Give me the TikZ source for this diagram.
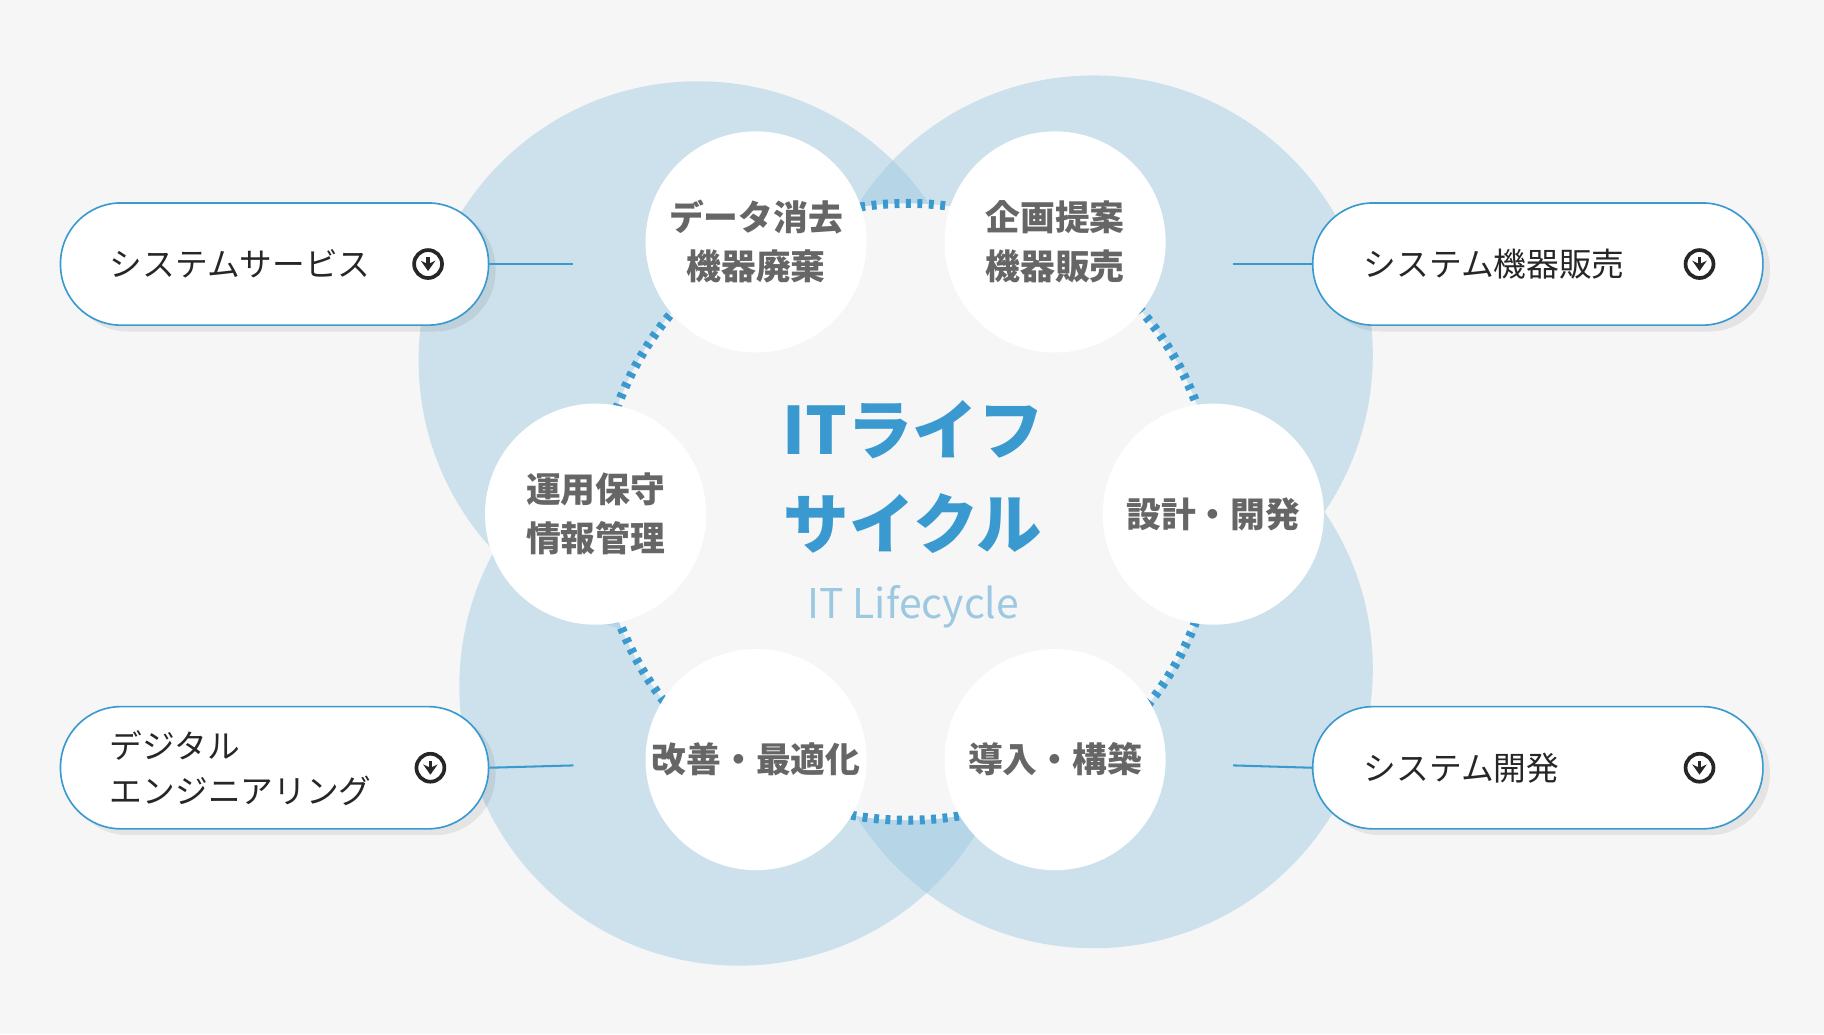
\documentclass[tikz,border=0pt]{standalone}
\usepackage{fontspec}
\setmainfont{Noto Sans CJK JP}
\usetikzlibrary{positioning,arrows.meta}
\definecolor{bgray}{HTML}{F6F6F6}
\definecolor{ablue}{HTML}{3A9AD0}
\definecolor{lblue}{HTML}{9CC8E2}
\definecolor{tgray}{HTML}{666666}
\begin{document}
\begin{tikzpicture}[x=0.01cm,y=-0.01cm]
    \tikzset{big circle/.style = {circle,fill=lblue,fill opacity=0.45,minimum size=4.8cm,inner sep=0pt}}
    \tikzset{step circle/.style = {circle,fill=white,minimum size=1.9cm,inner sep=0pt,align=center,
        font=\fontsize{8.5pt}{12pt}\selectfont\bfseries,text=tgray}}
    \tikzset{pill/.style = {rounded corners=0.52cm,draw=ablue,fill=white,minimum width=3.68cm,minimum height=1.05cm,inner sep=0pt}}
    \tikzset{pill text/.style = {anchor=west,align=left,font=\fontsize{8pt}{11pt}\selectfont,text=black!85}}
    \tikzset{link/.style = {draw=ablue,line width=0.5pt}}
\fill[bgray] (0,0) rectangle (1568,889);
\useasboundingbox (0,0) rectangle (1568,889);
% background circles
\node[big circle] (tl) at (600,310) {};
\node[big circle] (tr) at (940,305) {};
\node[big circle] (bl) at (635,590) {};
\node[big circle] (br) at (940,575) {};
% inner disc and dotted ring
\fill[bgray] (780,440) circle (2.65cm);
\draw[ablue,line width=2.2pt,dash pattern=on 1.2pt off 1.6pt] (780,440) circle (2.65cm);
% steps
\node[step circle] (s1) at (650,208) {データ消去\\機器廃棄};
\node[step circle] (s2) at (907,208) {企画提案\\機器販売};
\node[step circle] (s3) at (1043,442) {設計・開発};
\node[step circle] (s4) at (907,653) {導入・構築};
\node[step circle] (s5) at (650,653) {改善・最適化};
\node[step circle] (s6) at (512,442) {運用保守\\情報管理};
% title
\node[align=center,text=ablue,font=\fontsize{16pt}{23pt}\selectfont\bfseries] (title) at (785,410) {ITライフ\\サイクル};
\node[text=lblue,font=\fontsize{10pt}{12pt}\selectfont] (sub) at (785,522) {IT Lifecycle};
% pills
\foreach \n/\x/\y/\w in {p1/236/227/368,p2/1322/227/387,p3/236/660/368,p4/1322/660/387}{
  \fill[black,opacity=0.07,rounded corners=0.52cm] (\x-\w/2+6,\y-48) rectangle (\x+\w/2+6,\y+58);
  \node[pill,minimum width=\w*0.01cm] (\n) at (\x,\y) {};
}
\node[pill text] (t1) at (82,227) {システムサービス};
\node[pill text] (t2) at (1160,227) {システム機器販売};
\node[pill text] (t3) at (82,660) {デジタル\\エンジニアリング};
\node[pill text] (t4) at (1160,660) {システム開発};
\foreach \n/\x/\y in {i1/368/227,i2/1461/227,i3/370/660,i4/1461/660}{
  \node[circle,draw=black!85,line width=0.9pt,minimum size=0.24cm,inner sep=0pt] (\n) at (\x,\y) {};
  \draw[black!85,line width=0.8pt,-{Stealth[length=2.5pt,width=3.5pt]}] (\x,\y-6) -- (\x,\y+6);
}
% links
\coordinate (c1) at (493,227);
\coordinate (c2) at (1060,227);
\coordinate (c3) at (493,658);
\coordinate (c4) at (1060,658);
\draw[link] (p1.east) -- (c1);
\draw[link] (p2.west) -- (c2);
\draw[link] (p3.east) -- (c3);
\draw[link] (p4.west) -- (c4);
\end{tikzpicture}
\end{document}
